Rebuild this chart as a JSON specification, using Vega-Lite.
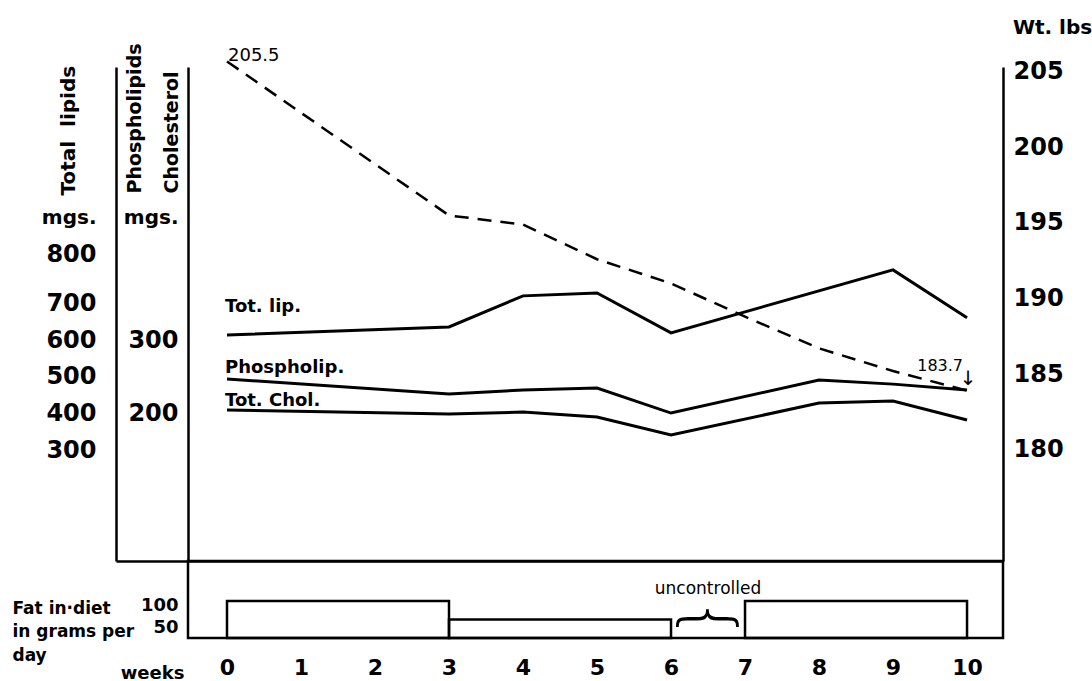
{
  "$schema": "https://vega.github.io/schema/vega-lite/v6.json",
  "padding": {"left": 10, "top": 17, "right": 0, "bottom": 0},
  "bounds": "flush",
  "spacing": 0,
  "datasets": {
    "lipids": [
      {"week": 0, "series": "Tot. lip.", "mg": 614},
      {"week": 3, "series": "Tot. lip.", "mg": 636},
      {"week": 4, "series": "Tot. lip.", "mg": 721},
      {"week": 5, "series": "Tot. lip.", "mg": 729},
      {"week": 6, "series": "Tot. lip.", "mg": 620},
      {"week": 9, "series": "Tot. lip.", "mg": 792},
      {"week": 10, "series": "Tot. lip.", "mg": 661},
      {"week": 0, "series": "Phospholip.", "mg": 247},
      {"week": 3, "series": "Phospholip.", "mg": 226.5},
      {"week": 4, "series": "Phospholip.", "mg": 232},
      {"week": 5, "series": "Phospholip.", "mg": 234.7},
      {"week": 6, "series": "Phospholip.", "mg": 200.5},
      {"week": 8, "series": "Phospholip.", "mg": 245.6},
      {"week": 9, "series": "Phospholip.", "mg": 240},
      {"week": 10, "series": "Phospholip.", "mg": 232},
      {"week": 0, "series": "Tot. Chol.", "mg": 204.6},
      {"week": 3, "series": "Tot. Chol.", "mg": 199.2},
      {"week": 4, "series": "Tot. Chol.", "mg": 201.9},
      {"week": 5, "series": "Tot. Chol.", "mg": 195.1},
      {"week": 6, "series": "Tot. Chol.", "mg": 170.5},
      {"week": 8, "series": "Tot. Chol.", "mg": 214.2},
      {"week": 9, "series": "Tot. Chol.", "mg": 216.9},
      {"week": 10, "series": "Tot. Chol.", "mg": 191}
    ],
    "weight": [
      {"week": 0, "lbs": 205.5},
      {"week": 3, "lbs": 195.3},
      {"week": 4, "lbs": 194.7},
      {"week": 5, "lbs": 192.4},
      {"week": 6, "lbs": 190.8},
      {"week": 7, "lbs": 188.6},
      {"week": 8, "lbs": 186.5},
      {"week": 9, "lbs": 185.0},
      {"week": 10, "lbs": 183.7}
    ],
    "fat": [
      {"start": 0, "end": 3, "fat": 100},
      {"start": 3, "end": 6, "fat": 50},
      {"start": 7, "end": 10, "fat": 100}
    ],
    "notes": [
      {"week": 6.5, "note": "uncontrolled"}
    ]
  },
  "config": {
    "view": {"stroke": null},
    "axis": {
      "grid": false, "ticks": false, "domainColor": "black", "domainWidth": 2.5,
      "labelColor": "black", "titleColor": "black",
      "labelFont": "DejaVu Sans", "titleFont": "DejaVu Sans",
      "labelFontWeight": "bold", "titleFontWeight": "bold",
      "labelFlush": false, "labelOverlap": false
    },
    "text": {"font": "DejaVu Sans", "color": "black"}
  },
  "vconcat": [
    {
      "width": 815,
      "height": 494,
      "encoding": {
        "x": {"field": "week", "type": "quantitative",
              "scale": {"domain": [-0.527, 10.486], "nice": false, "zero": false},
              "axis": {"title": null, "labels": false, "ticks": false, "domain": true}}
      },
      "layer": [
        {
          "data": {"name": "lipids"},
          "transform": [{"filter": "datum.series === 'Tot. lip.'"}],
          "layer": [
            {
              "mark": {"type": "line", "color": "black", "strokeWidth": 3},
              "encoding": {
                "y": {"field": "mg", "type": "quantitative",
                      "scale": {"domain": [-3, 1346], "nice": false, "zero": false},
                      "axis": {
                        "orient": "left", "offset": 72,
                        "values": [300, 400, 500, 600, 700, 800, 936],
                        "labelExpr": "datum.value > 900 ? 'mgs.' : datum.label",
                        "labelFontSize": {"condition": {"test": "datum.value > 900", "value": 20}, "value": 24},
                        "labelOffset": {"condition": {"test": "datum.value == 800", "value": -12}, "value": 0},
                        "labelPadding": 20,
                        "title": "Total\u00a0\u00a0lipids",
                        "titleAngle": -90, "titleAlign": "left", "titleBaseline": "alphabetic",
                        "titleX": -42, "titleY": 128, "titleFontSize": 20
                      }}
              }
            },
            {
              "transform": [{"filter": "datum.week === 0"}],
              "mark": {"type": "text", "align": "left", "baseline": "alphabetic", "dx": -2, "dy": -23, "fontSize": 18, "fontWeight": "bold"},
              "encoding": {
                "y": {"field": "mg", "type": "quantitative"},
                "text": {"field": "series", "type": "nominal"}
              }
            }
          ]
        },
        {
          "data": {"name": "lipids"},
          "transform": [{"filter": "datum.series !== 'Tot. lip.'"}],
          "layer": [
            {
              "mark": {"type": "line", "color": "black", "strokeWidth": 3},
              "encoding": {
                "detail": {"field": "series", "type": "nominal"},
                "y": {"field": "mg", "type": "quantitative",
                      "scale": {"domain": [-1.5, 673], "nice": false, "zero": false},
                      "axis": {
                        "orient": "left", "offset": 0,
                        "values": [-1.5, 200, 300, 468],
                        "labelExpr": "datum.value < 0 ? '' : datum.value > 400 ? 'mgs.' : datum.label",
                        "labelFontSize": {"condition": {"test": "datum.value > 400", "value": 20}, "value": 24},
                        "ticks": true, "tickSize": 72, "tickWidth": 2.5, "tickColor": "black",
                        "tickOpacity": {"condition": {"test": "datum.value < 0", "value": 1}, "value": 0},
                        "labelPadding": -62,
                        "title": ["Phospholipids", "Cholesterol"],
                        "titleAngle": -90, "titleAlign": "left", "titleBaseline": "top",
                        "titleLineHeight": 37,
                        "titleX": -63, "titleY": 126, "titleFontSize": 19
                      }}
              }
            },
            {
              "transform": [{"filter": "datum.week === 0 && datum.series === 'Phospholip.'"}],
              "mark": {"type": "text", "align": "left", "baseline": "alphabetic", "dx": -2, "dy": -6, "fontSize": 18, "fontWeight": "bold"},
              "encoding": {
                "y": {"field": "mg", "type": "quantitative"},
                "text": {"field": "series", "type": "nominal"}
              }
            },
            {
              "transform": [{"filter": "datum.week === 0 && datum.series === 'Tot. Chol.'"}],
              "mark": {"type": "text", "align": "left", "baseline": "alphabetic", "dx": -2, "dy": -4, "fontSize": 18, "fontWeight": "bold"},
              "encoding": {
                "y": {"field": "mg", "type": "quantitative"},
                "text": {"field": "series", "type": "nominal"}
              }
            }
          ]
        },
        {
          "data": {"name": "weight"},
          "layer": [
            {
              "mark": {"type": "line", "color": "black", "strokeWidth": 2.5, "strokeDash": [14, 9]},
              "encoding": {
                "y": {"field": "lbs", "type": "quantitative",
                      "scale": {"domain": [172.42, 205.13], "nice": false, "zero": false},
                      "axis": {
                        "orient": "right",
                        "values": [180, 185, 190, 195, 200, 205],
                        "labelFontSize": 24, "labelPadding": 10, "labelOffset": 3,
                        "title": "Wt. lbs",
                        "titleAngle": 0, "titleAlign": "center", "titleBaseline": "alphabetic",
                        "titleX": 49, "titleY": -34, "titleFontSize": 20
                      }}
              }
            },
            {
              "transform": [{"filter": "datum.week === 0"}],
              "mark": {"type": "text", "align": "left", "baseline": "alphabetic", "dx": 1, "dy": 0, "fontSize": 18},
              "encoding": {
                "y": {"field": "lbs", "type": "quantitative"},
                "text": {"field": "lbs", "type": "quantitative", "format": ".1f"}
              }
            },
            {
              "transform": [{"filter": "datum.week === 10"}],
              "mark": {"type": "text", "align": "right", "baseline": "alphabetic", "dx": -4, "dy": -20, "fontSize": 16},
              "encoding": {
                "y": {"field": "lbs", "type": "quantitative"},
                "text": {"field": "lbs", "type": "quantitative", "format": ".1f"}
              }
            },
            {
              "transform": [{"filter": "datum.week === 10"}],
              "mark": {"type": "text", "align": "center", "baseline": "alphabetic", "dx": 1, "dy": -6, "fontSize": 20},
              "encoding": {
                "y": {"field": "lbs", "type": "quantitative"},
                "text": {"value": "↓"}
              }
            }
          ]
        }
      ],
      "resolve": {"scale": {"y": "independent"}, "axis": {"y": "independent"}}
    },
    {
      "width": 815,
      "height": 77,
      "view": {"stroke": "black", "strokeWidth": 2.5},
      "layer": [
        {
          "data": {"name": "fat"},
          "mark": {"type": "rect", "filled": false, "color": "black", "strokeWidth": 2.5},
          "encoding": {
            "x": {"field": "start", "type": "quantitative",
                  "scale": {"domain": [-0.527, 10.486], "nice": false, "zero": false},
                  "axis": {
                    "values": [0, 1, 2, 3, 4, 5, 6, 7, 8, 9, 10], "format": "d",
                    "domain": false, "labelFontSize": 22, "labelPadding": 19,
                    "title": "weeks", "titleAlign": "center", "titleBaseline": "alphabetic",
                    "titleX": -36, "titleY": 40, "titleFontSize": 18
                  }},
            "x2": {"field": "end"},
            "y": {"field": "fat", "type": "quantitative",
                  "scale": {"domain": [0, 208], "nice": false, "zero": false},
                  "axis": {
                    "orient": "left", "values": [50, 100], "domain": false,
                    "labelFontSize": 18, "labelPadding": 10,
                    "labelOffset": {"condition": {"test": "datum.value == 100", "value": 5}, "value": 8},
                    "title": ["Fat in·diet", "in grams per", "day"],
                    "titleAngle": 0, "titleAlign": "left", "titleBaseline": "alphabetic",
                    "titleLineHeight": 23.5,
                    "titleX": -176, "titleY": 52, "titleFontSize": 17
                  }},
            "y2": {"datum": 0}
          }
        },
        {
          "data": {"name": "notes"},
          "mark": {"type": "text", "align": "center", "baseline": "middle", "fontSize": 17},
          "encoding": {
            "x": {"field": "week", "type": "quantitative"},
            "y": {"datum": 132},
            "text": {"field": "note", "type": "nominal"}
          }
        },
        {
          "data": {"name": "notes"},
          "mark": {"type": "text", "align": "center", "baseline": "middle", "fontSize": 68, "fontWeight": 200, "angle": -90},
          "encoding": {
            "x": {"field": "week", "type": "quantitative"},
            "y": {"datum": 57},
            "text": {"value": "}"}
          }
        }
      ]
    }
  ]
}
